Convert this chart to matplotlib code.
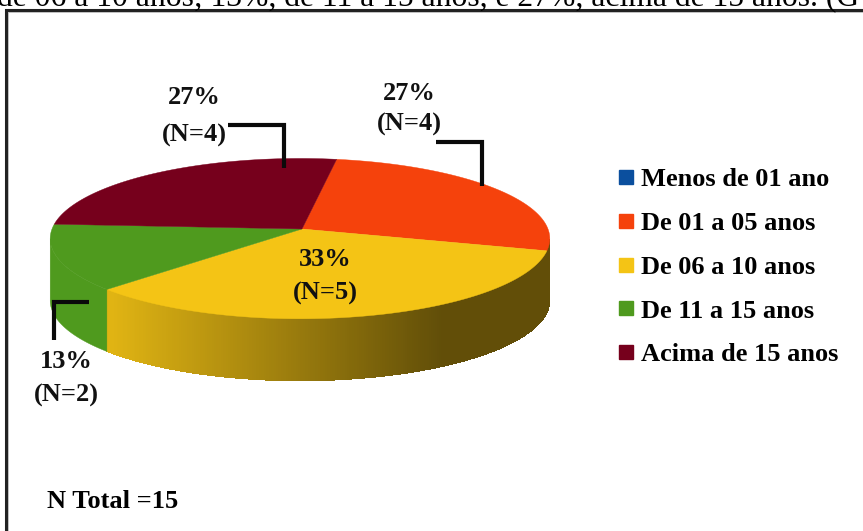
import numpy as np
import matplotlib
matplotlib.use('Agg')
import matplotlib.pyplot as plt
from matplotlib.colors import to_rgb
from matplotlib.lines import Line2D
from matplotlib.patches import Polygon

categories = ['Menos de 01 ano', 'De 01 a 05 anos', 'De 06 a 10 anos', 'De 11 a 15 anos', 'Acima de 15 anos']
counts = [0, 4, 5, 2, 4]
percent_labels = ['', '27%', '33%', '13%', '27%']
colors = ['#0b4f9e', '#f5420c', '#f4c415', '#4f9a1e', '#76001c']

plt.rcParams['font.family'] = ['Liberation Serif', 'DejaVu Serif']

CX, CY = 300, 229
RX, RY = 248, 79
DEPTH = 62
PERSP = 0.12
START = 9.5


def project(theta):
    # theta in degrees, clockwise from the back of the pie
    t = np.radians(theta)
    u, v = np.sin(t), np.cos(t)
    s = 1 / (1 + PERSP * v)
    return CX + RX * u * s, CY - RY * v * s


def shade(color, x):
    # the yellow side gets darker towards the right
    f = np.clip((x - 110) / 330, 0, 1)
    return np.array(to_rgb(color)) * (0.92 - 0.52 * f)


fig = plt.figure(figsize=(8.63, 5.31), dpi=100)
ax = fig.add_axes([0, 0, 1, 1])
ax.set_xlim(0, 863)
ax.set_ylim(531, 0)
ax.axis('off')

# frame: only left and top show in the picture
ax.plot([8, 8], [531, 12], color='#c4c4c4', lw=1.4)
ax.plot([8, 863], [12, 12], color='#c4c4c4', lw=1.4)
ax.plot([5.5, 5.5, 863], [531, 10, 10], color='#222222', lw=2.2, solid_joinstyle='miter')

ax.text(-3, 6, 'de 06 a 10 anos; 13%, de 11 a 15 anos, e 27%, acima de 15 anos. (G',
        fontsize=22.8, color='black', va='baseline', ha='left')

edges = START + np.cumsum([0] + counts) / sum(counts) * 360

# side of the pie runs between the widest points of the ellipse
sweep = np.linspace(0, 360, 1441)
right_a = sweep[np.argmax(project(sweep)[0])]
left_a = sweep[np.argmin(project(sweep)[0])]

# yellow runs under the orange slice up to the right edge
yellow_end = edges[3]
for a in np.arange(right_a, yellow_end, 0.5):
    x0, y0 = project(a)
    x1, y1 = project(min(a + 0.7, yellow_end))
    col = shade(colors[2], (x0 + x1) / 2)
    ax.add_patch(Polygon([(x0, y0), (x1, y1), (x1, y1 + DEPTH), (x0, y0 + DEPTH)],
                         facecolor=col, edgecolor='none', antialiased=False))
theta = np.linspace(yellow_end, left_a, 60)
xs, ys = project(theta)
ax.add_patch(Polygon(list(zip(xs, ys)) + list(zip(xs[::-1], ys[::-1] + DEPTH)),
                     facecolor=colors[3], edgecolor=colors[3], lw=0.3))

# top of the pie
for i in range(len(counts)):
    if counts[i] == 0:
        continue
    theta = np.linspace(edges[i], edges[i + 1], 100)
    xs, ys = project(theta)
    pts = [(CX + 2, CY)] + list(zip(xs, ys))
    ax.add_patch(Polygon(pts, facecolor=colors[i], edgecolor=colors[i], lw=0.3))

# labels
label_pos = {1: (409, 93, 124), 2: (325, 260, 293), 3: (66, 362, 395), 4: (194, 97, 135)}
for i, (lx, ly1, ly2) in label_pos.items():
    ax.text(lx, ly1, percent_labels[i], fontsize=19, fontweight='bold', ha='center', va='center', color='#111111')
    ax.text(lx, ly2, '(N=%d)' % counts[i], fontsize=19, fontweight='bold', ha='center', va='center', color='#111111')

# callout lines
for xs, ys in [([228, 284, 284], [125, 125, 168]),
               ([436, 482, 482], [142, 142, 186]),
               ([89, 54, 54], [302, 302, 340])]:
    ax.plot(xs, ys, color='#0a0a0a', lw=3, solid_joinstyle='miter', solid_capstyle='butt')

handles = [Line2D([], [], linestyle='none', marker='s', markersize=10, color=c) for c in colors]
ax.legend(handles, categories, loc='upper left', bbox_to_anchor=(614, 168), bbox_transform=ax.transData,
          frameon=False, handlelength=0.9, handletextpad=0.12, labelspacing=0.767, borderpad=0, borderaxespad=0,
          prop={'family': 'Liberation Serif', 'weight': 'bold', 'size': 19})

ax.text(47, 502, 'N Total =15', fontsize=19, fontweight='bold', ha='left', va='center', color='black')

fig.savefig('out.png', dpi=100)
